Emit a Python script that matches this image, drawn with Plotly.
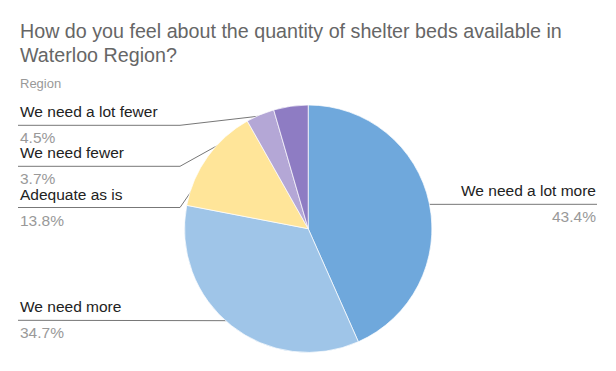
import math
import plotly.graph_objects as go

# ---- data ----
categories = ["We need a lot more", "We need more", "Adequate as is", "We need fewer", "We need a lot fewer"]
values = [43.4, 34.7, 13.8, 3.7, 4.5]
colors = ["#6fa8dc", "#9fc5e8", "#ffe599", "#b4a7d6", "#8e7cc3"]
title_lines = ["How do you feel about the quantity of shelter beds available in", "Waterloo Region?"]
subtitle = "Region"

# ---- layout (pixel space) ----
W, H = 616, 371
cx, cy, r = 308.2, 228.7, 123.7
label_side = ["right", "left", "left", "left", "left"]
label_line_y = [204.3, 320.3, 207.5, 166.3, 125.3]
left_x, right_x = 19, 597
elbow_x = 180
dot_frac = 0.95
title_y = [31, 55]
FONT = "Liberation Sans, Arial, sans-serif"

fig = go.Figure()
fig.add_trace(go.Pie(
    labels=categories, values=values, sort=False, direction="clockwise", rotation=0,
    marker=dict(colors=colors, line=dict(color="white", width=0.7)),
    textinfo="none", hoverinfo="label+percent", showlegend=False,
    domain=dict(x=[(cx - r) / W, (cx + r) / W], y=[1 - (cy + r) / H, 1 - (cy - r) / H]),
))

total = sum(values)
cum = 0.0
annotations = []
for name, v, side, ly in zip(categories, values, label_side, label_line_y):
    ang = math.radians((cum + v / 2) / total * 360)
    cum += v
    dx = cx + dot_frac * r * math.sin(ang)
    dy = cy - dot_frac * r * math.cos(ang)
    if side == "left":
        ex = min(elbow_x, dx)
        xs, ys = [left_x - 1, ex, dx], [ly, ly, dy]
        tx, anchor = left_x, "left"
    else:
        xs, ys = [dx, right_x], [dy, ly]
        tx, anchor = right_x, "right"
    fig.add_trace(go.Scatter(x=xs, y=ys, mode="lines", line=dict(color="#777777", width=1),
                             hoverinfo="skip", showlegend=False))
    fig.add_trace(go.Scatter(x=[dx], y=[dy], mode="markers", marker=dict(color="#999999", size=5),
                             hoverinfo="skip", showlegend=False))
    annotations.append(dict(x=tx, y=ly - 4, xref="x", yref="y", text=name, showarrow=False, borderpad=0,
                            xanchor=anchor, yanchor="bottom", font=dict(family=FONT, size=15.5, color="#222222")))
    annotations.append(dict(x=tx, y=ly + 3, xref="x", yref="y", text=f"{v:.1f}%", showarrow=False, borderpad=0,
                            xanchor=anchor, yanchor="top", font=dict(family=FONT, size=15.5, color="#999999")))

for line, ty in zip(title_lines, title_y):
    annotations.append(dict(x=18, y=ty, xref="x", yref="y", text=line, showarrow=False,
                            xanchor="left", yanchor="middle", align="left",
                            font=dict(family=FONT, size=19.7, color="#666666")))
annotations.append(dict(x=18, y=74, xref="x", yref="y", text=subtitle, showarrow=False,
                        xanchor="left", yanchor="top", align="left",
                        font=dict(family=FONT, size=13, color="#999999")))

fig.update_layout(
    width=W, height=H, margin=dict(l=0, r=0, t=0, b=0),
    paper_bgcolor="white", plot_bgcolor="rgba(0,0,0,0)",
    xaxis=dict(range=[0, W], visible=False, fixedrange=True, domain=[0, 1]),
    yaxis=dict(range=[H, 0], visible=False, fixedrange=True, domain=[0, 1]),
    annotations=annotations, font=dict(family=FONT),
)
fig.write_html("out.html", config={"displayModeBar": False},
               post_script="document.body.style.margin='0';document.body.style.overflow='hidden';")
